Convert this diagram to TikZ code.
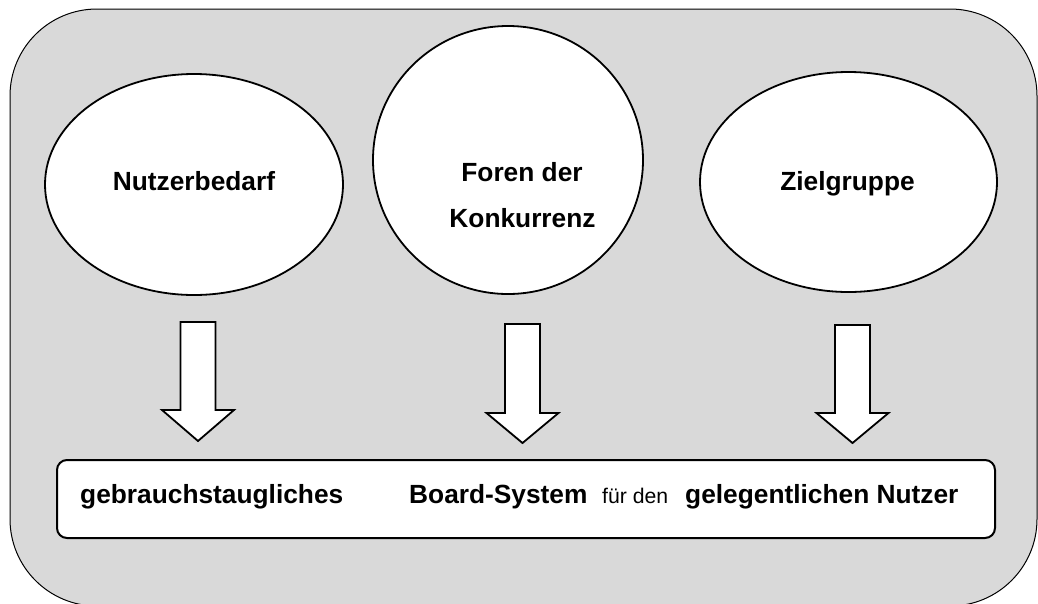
\documentclass[tikz,border=0pt]{standalone}
\usepackage{fontspec}
\setmainfont{Liberation Sans}
\usetikzlibrary{shapes.geometric}
\definecolor{bggray}{RGB}{217,217,217}
\begin{document}
\begin{tikzpicture}[x=1pt,y=-1pt,
  bubble/.style={ellipse,draw,fill=white,line width=1.8pt,inner sep=0pt},
  lbl/.style={font=\fontsize{26.3}{44}\selectfont\bfseries,inner sep=0pt,anchor=base west},
  lblc/.style={font=\fontsize{26.3}{44}\selectfont\bfseries,inner sep=0pt,anchor=base},
  smalllbl/.style={font=\fontsize{21.2}{25}\selectfont,inner sep=0pt,anchor=base west},
  blockarrow/.style={draw,fill=white,line width=1.8pt,line join=miter}]
\useasboundingbox (0,0) rectangle (1038,603);
\draw[fill=bggray,line width=1pt,rounded corners=87pt] (10,9) rectangle (1037,606);
% ellipses
\node[bubble,minimum width=298pt,minimum height=221pt] (e1) at (194,184.5) {};
\node[bubble,minimum width=270pt,minimum height=268pt] (e2) at (508,160) {};
\node[bubble,minimum width=297pt,minimum height=220pt] (e3) at (848.5,182) {};
\node[lblc] (t1) at (194,190) {Nutzerbedarf};
\node[lblc] (t2a) at (522,181) {Foren der};
\node[lblc] (t2b) at (522.5,227) {Konkurrenz};
\node[lblc] (t3) at (847.5,190) {Zielgruppe};
% block arrows
\foreach \cx/\top/\base/\tip in {198/322/410/441, 522.5/324/413/443, 852.5/325/413/443}{
  \draw[blockarrow] (\cx-17.5,\top) -- (\cx+17.5,\top) -- (\cx+17.5,\base) -- (\cx+36,\base)
    -- (\cx,\tip) -- (\cx-36,\base) -- (\cx-17.5,\base) -- cycle;
}
% bottom box
\node[draw,fill=white,rounded corners=10pt,line width=2pt,minimum width=938pt,minimum height=78pt,inner sep=0pt] (box) at (526,499) {};
\node[lbl] (b1) at (80,503) {gebrauchstaugliches};
\node[lbl] (b2) at (409,503) {Board-System};
\node[smalllbl] (b3) at (602,503) {für den};
\node[lbl] (b4) at (685,503) {gelegentlichen Nutzer};
\end{tikzpicture}
\end{document}
